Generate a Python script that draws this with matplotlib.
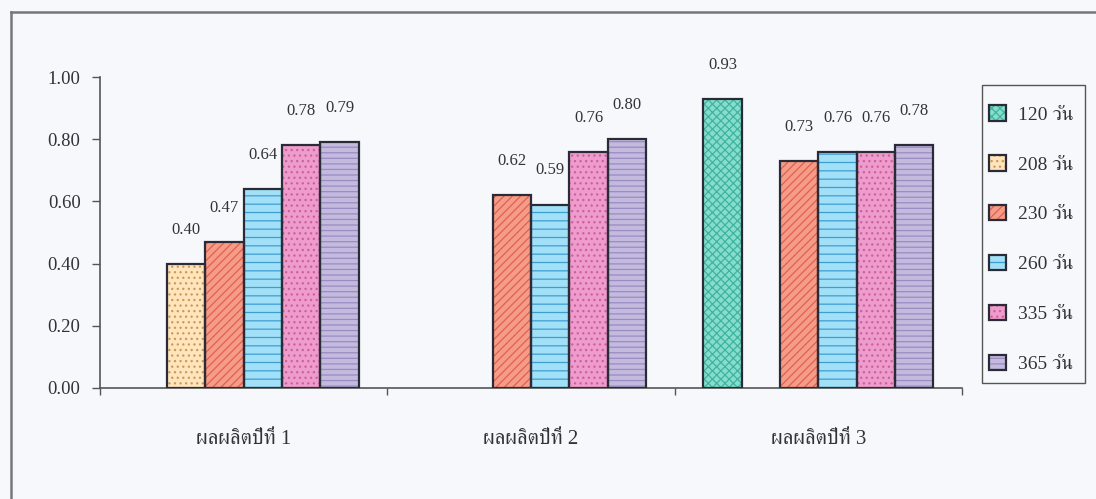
import numpy as np
import matplotlib
matplotlib.use("Agg")
import matplotlib.pyplot as plt
from matplotlib.patches import Patch, Rectangle
from matplotlib.lines import Line2D
from matplotlib import font_manager as fm
from matplotlib.ft2font import FT2Font

# ---- data -------------------------------------------------------------
groups = ["ผลผลิตปีที่ 1", "ผลผลิตปีที่ 2", "ผลผลิตปีที่ 3"]
series_names = ["120 วัน", "208 วัน", "230 วัน", "260 วัน", "335 วัน", "365 วัน"]
nan = np.nan
d120 = [nan, nan, 0.93]
d208 = [0.40, nan, nan]
d230 = [0.47, 0.62, 0.73]
d260 = [0.64, 0.59, 0.76]
d335 = [0.78, 0.76, 0.76]
d365 = [0.79, 0.80, 0.78]
yticks = [0.0, 0.2, 0.4, 0.6, 0.8, 1.0]

series_values = [d120, d208, d230, d260, d335, d365]

# ---- styling ----------------------------------------------------------
faces = ["#86DDCD", "#FFE4BC", "#F59C88", "#A2E0F7", "#EE9CCB", "#C4BADD"]
hatch_cols = ["#3FB39E", "#C99A5C", "#E0604E", "#3E9ED0", "#CF5E9F", "#9A8BC2"]
hatches = ["xxxx", "...", "////", "--", "...", "---"]
outline = "#2B2B38"
text_col = "#333333"
bg = "#F6F8FC"


def find_thai_font():
    """Return an installed family that can draw Thai script."""
    found = []
    for f in fm.fontManager.ttflist:
        try:
            if ord("ผ") in FT2Font(f.fname).get_charmap():
                found.append(f.name)
        except Exception:
            pass
    serif = [n for n in found if "Serif" in n]
    if serif:
        return serif[0]
    return found[0] if found else "DejaVu Sans"


thai = find_thai_font()
fam = ["Liberation Serif", thai, "DejaVu Sans"]
plt.rcParams["font.family"] = fam
plt.rcParams["hatch.linewidth"] = 0.9

W, H = 1096, 499
fig = plt.figure(figsize=(W / 100, H / 100), dpi=100, facecolor=bg)
ax = fig.add_axes([100 / W, 1 - 388 / H, (962 - 100) / W, (388 - 77) / H])
ax.set_facecolor("none")

bw = 0.1335
centers = np.arange(len(groups)) + 0.5
for i, vals in enumerate(series_values):
    xs = centers + (i - 2.5) * bw
    v = np.array(vals, dtype=float)
    ok = ~np.isnan(v)
    # patterned fill
    ax.bar(xs[ok], v[ok], width=bw, color=faces[i], edgecolor=hatch_cols[i],
           hatch=hatches[i], linewidth=0, zorder=2)
    # dark outline
    ax.bar(xs[ok], v[ok], width=bw, fill=False, edgecolor=outline,
           linewidth=1.6, zorder=3)
    for x, y in zip(xs[ok], v[ok]):
        ax.annotate(f"{y:.2f}", (x, y), xytext=(0, 24.5), textcoords="offset points",
                    ha="center", va="center", fontsize=12, color=text_col,
                    annotation_clip=False, zorder=4)

ax.set_xlim(0, 3)
ax.set_ylim(0, 1.0)
for s in ("top", "right"):
    ax.spines[s].set_visible(False)
for s in ("left", "bottom"):
    ax.spines[s].set_color("#555555")
    ax.spines[s].set_linewidth(1.2)

ax.set_yticks(yticks)
ax.set_yticklabels([f"{t:.2f}" for t in yticks])
ax.tick_params(axis="y", direction="out", length=6, width=1, color="#555555",
               pad=8, labelsize=13.5, labelcolor=text_col)

ax.set_xticks([0, 1, 2, 3])
ax.set_xticklabels([])
ax.tick_params(axis="x", which="major", direction="out", length=5, width=1,
               color="#555555")
ax.set_xticks(centers, minor=True)
ax.set_xticklabels(groups, minor=True)
ax.tick_params(axis="x", which="minor", length=0, pad=30, labelsize=15,
               labelcolor=text_col)

# legend: patterned square with a dark outline for each series
handles = []
for i in range(len(series_names)):
    p1 = Patch(facecolor=faces[i], edgecolor=hatch_cols[i], hatch=hatches[i], linewidth=0)
    p2 = Patch(facecolor="none", edgecolor=outline, linewidth=1.6)
    handles.append((p1, p2))
leg_fs = 14
row_px = leg_fs * 100 / 72
leg = fig.legend(handles, series_names, loc="upper left",
                 bbox_to_anchor=(989 / W, 1 - (116 - 0.55 * row_px) / H),
                 bbox_transform=fig.transFigure,
                 fontsize=leg_fs, frameon=False, borderpad=0,
                 labelspacing=(50.8 - row_px) / row_px, handlelength=0.85,
                 handleheight=0.85, handletextpad=0.65, borderaxespad=0)
for t in leg.get_texts():
    t.set_color(text_col)

# legend box
fig.add_artist(Rectangle((982 / W, 1 - 383 / H), 103 / W, 298 / H,
                         transform=fig.transFigure, fill=False,
                         edgecolor="#555555", linewidth=1.0))

# outer chart border (left and top edges)
fig.add_artist(Line2D([11 / W, 11 / W], [-0.01, 1 - 12 / H], transform=fig.transFigure,
                      color="#777777", linewidth=1.8))
fig.add_artist(Line2D([11 / W, 1.01], [1 - 12 / H, 1 - 12 / H], transform=fig.transFigure,
                      color="#777777", linewidth=1.8))

fig.savefig("out.png", dpi=100, facecolor=bg)
